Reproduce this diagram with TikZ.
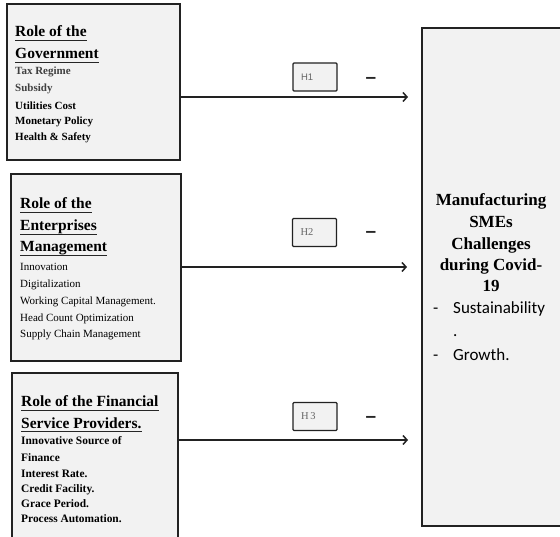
\documentclass[tikz,border=0pt]{standalone}
\usepackage{fontspec}
\setmainfont{Liberation Serif}
\newfontfamily\calfont{Carlito}
\newfontfamily\arialfont{Liberation Sans}
\usetikzlibrary{arrows.meta,calc}

\definecolor{panelfill}{HTML}{F2F2F2}
\definecolor{edge}{HTML}{222222}

\tikzset{
  panel/.style={draw=edge, line width=1.6pt, fill=panelfill, anchor=north west,
                inner sep=0pt, outer sep=0pt},
  title/.style={font=\fontsize{15.5}{18}\selectfont\bfseries, inner sep=0pt, anchor=base west},
  itemb/.style={font=\fontsize{11}{13}\selectfont\bfseries, inner sep=0pt, anchor=base west},
  itemr/.style={font=\fontsize{11}{13}\selectfont, inner sep=0pt, anchor=base west},
  itemc/.style={font=\fontsize{11.4}{13}\selectfont\bfseries, inner sep=0pt, anchor=base west},
  head/.style={font=\fontsize{17}{20}\selectfont\bfseries, inner sep=0pt, anchor=base},
  sansline/.style={font=\calfont\fontsize{17}{20}\selectfont, inner sep=0pt, anchor=base west},
  hyp/.style={draw=edge, line width=1.4pt, fill=panelfill, rounded corners=1pt,
              minimum width=44pt, minimum height=28pt, inner sep=0pt,
              text width=28pt, align=left, text=black!60,
              font=\fontsize{10.5}{12}\selectfont},
  sign/.style={font=\arialfont\fontsize{19}{20}\selectfont\bfseries, inner sep=0pt, text=black!85},
  arr/.style={draw=edge, line width=1.5pt,
              -{Straight Barb[length=4pt,width=9pt,line width=1.5pt]}},
  ul/.style={draw=black!85, line width=1.3pt}
}
\newcommand\ulnode[1]{\draw[ul] ($(#1.base west)+(0,3.2)$) -- ($(#1.base east)+(0,3.2)$);}

\begin{document}
\begin{tikzpicture}[x=1pt,y=-1pt]
  \useasboundingbox (0,0) rectangle (560,537);
  \clip (0,0) rectangle (560,537);

  % panels
  \node[panel, minimum width=173pt, minimum height=156pt] (gov) at (7,4) {};
  \node[panel, minimum width=170pt, minimum height=187pt] (ent) at (11,174) {};
  \node[panel, minimum width=166pt, minimum height=180pt] (fin) at (12,373) {};
  \node[panel, minimum width=150pt, minimum height=498pt] (smes) at (422,28) {};

  % government
  \node[title] (g1) at (15,37) {Role of the};
  \node[title] (g2) at (15,59) {Government};
  \ulnode{g1}\ulnode{g2}
  \node[itemb, text=black!75] (g3) at (15,75) {Tax Regime};
  \node[itemb, text=black!75] (g4) at (15,92) {Subsidy};
  \node[itemb] (g5) at (15,109.5) {Utilities Cost};
  \node[itemb] (g6) at (15,125) {Monetary Policy};
  \node[itemb] (g7) at (15,140.5) {Health \& Safety};

  % enterprises management
  \node[title] (e1) at (20,209) {Role of the};
  \node[title] (e2) at (20,231) {Enterprises};
  \node[title] (e3) at (20,252) {Management};
  \ulnode{e1}\ulnode{e2}\ulnode{e3}
  \node[itemr] (e4) at (20,271) {Innovation};
  \node[itemr] (e5) at (20,287.5) {Digitalization};
  \node[itemr] (e6) at (20,304.5) {Working Capital Management.};
  \node[itemr] (e7) at (20,321.5) {Head Count Optimization};
  \node[itemr] (e8) at (20,338) {Supply Chain Management};

  % financial service providers
  \node[title] (f1) at (21,407) {Role of the Financial};
  \node[title] (f2) at (21,428.5) {Service Providers.};
  \ulnode{f1}\ulnode{f2}
  \node[itemc] (f3) at (21,444.5) {Innovative Source of};
  \node[itemc] (f4) at (21,461) {Finance};
  \node[itemc] (f5) at (21,477) {Interest Rate.};
  \node[itemc] (f6) at (21,492.5) {Credit Facility.};
  \node[itemc] (f7) at (21,507.5) {Grace Period.};
  \node[itemc] (f8) at (21,522.5) {Process Automation.};

  % outcome panel
  \node[head] (m1) at (491,206) {Manufacturing};
  \node[head] (m2) at (491,228) {SMEs};
  \node[head] (m3) at (491,250) {Challenges};
  \node[head] (m4) at (491,271) {during Covid-};
  \node[head] (m5) at (491,292) {19};
  \node[sansline] (s1) at (433,313.5) {-};
  \node[sansline] (s2) at (453,313.5) {Sustainability};
  \node[sansline] (s3) at (453,337) {.};
  \node[sansline] (s4) at (433,361) {-};
  \node[sansline] (s5) at (453,361) {Growth.};

  % connector heights
  \coordinate (a1) at (0,97);
  \coordinate (a2) at (0,267);
  \coordinate (a3) at (0,440);

  \draw[arr, shorten >=14pt] (gov.east |- a1) -- (smes.west |- a1);
  \draw[arr, shorten >=15pt] (ent.east |- a2) -- (smes.west |- a2);
  \draw[arr, shorten >=14pt] (fin.east |- a3) -- (smes.west |- a3);

  % hypothesis labels
  \node[hyp, font=\arialfont\fontsize{9.5}{10}\selectfont] (h1) at (315,77) {H1};
  \node[hyp] (h2) at (314.5,232.5) {H2};
  \node[hyp] (h3) at (315,416.5) {H\,3};

  \node[sign] (n1) at (371,80) {–};
  \node[sign] (n2) at (371,234) {–};
  \node[sign] (n3) at (371,419) {–};
\end{tikzpicture}
\end{document}
